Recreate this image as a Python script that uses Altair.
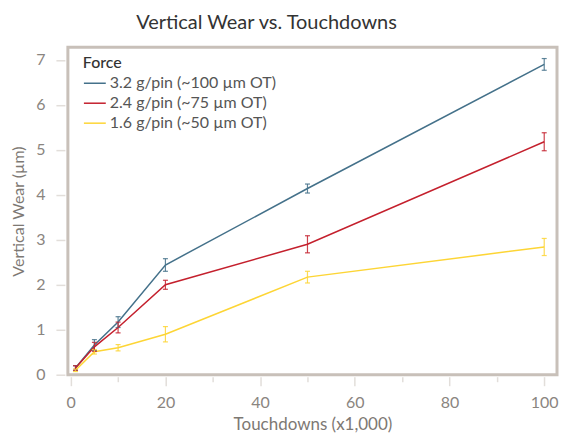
import altair as alt
import pandas as pd

touchdowns = [1, 5, 10, 20, 50, 100]
series_names = ["3.2 g/pin (~100 µm OT)", "2.4 g/pin (~75 µm OT)", "1.6 g/pin (~50 µm OT)"]
wear_32 = [0.15, 0.66, 1.17, 2.44, 4.14, 6.90]
err_32 = [0.05, 0.12, 0.12, 0.14, 0.10, 0.13]
wear_24 = [0.15, 0.62, 1.05, 2.00, 2.90, 5.18]
err_24 = [0.05, 0.10, 0.12, 0.10, 0.19, 0.20]
wear_16 = [0.10, 0.51, 0.60, 0.90, 2.17, 2.84]
err_16 = [0.03, 0.05, 0.07, 0.17, 0.13, 0.19]
colors = ["#44718a", "#c4202d", "#fdd535"]

rows = []
for name, vals, errs in zip(series_names, [wear_32, wear_24, wear_16], [err_32, err_24, err_16]):
    for t, v, e in zip(touchdowns, vals, errs):
        rows.append({"series": name, "t": t, "wear": v, "lo": v - e, "hi": v + e})
df = pd.DataFrame(rows)

FONT = "Lato"
xscale = alt.Scale(domain=[-0.6, 102.7], nice=False, zero=False)
yscale = alt.Scale(domain=[0, 7.28], nice=False)
cscale = alt.Scale(domain=series_names, range=colors)

xaxis = alt.Axis(
    values=list(range(0, 101, 10)),
    labelExpr="datum.value % 20 == 0 ? datum.label : ''",
    tickSize={"condition": {"test": "datum.value % 20 == 0", "value": 9}, "value": 5},
    domain=False, grid=False, offset=2, labelPadding=9, titlePadding=6,
    title="Touchdowns (x1,000)", titleFontSize=17,
)
yaxis = alt.Axis(
    values=[i * 0.5 for i in range(15)],
    labelExpr="datum.value % 1 == 0 ? datum.label : ''",
    tickSize={"condition": {"test": "datum.value % 1 == 0", "value": 9}, "value": 4},
    domain=False, grid=False, offset=3, labelPadding=11, titlePadding=9,
    title="Vertical Wear (µm)", titleFontSize=16,
)

base = alt.Chart(df)
lines = base.mark_line(strokeWidth=1.5).encode(
    x=alt.X("t:Q", scale=xscale, axis=xaxis),
    y=alt.Y("wear:Q", scale=yscale, axis=yaxis),
    color=alt.Color("series:N", scale=cscale, sort=series_names,
                    legend=alt.Legend(title="Force")),
)
bars = base.mark_errorbar(ticks={"size": 5, "thickness": 1.2}, thickness=1.2, opacity=0.85).encode(
    x=alt.X("t:Q", scale=xscale, title="Touchdowns (x1,000)"),
    y=alt.Y("lo:Q", scale=yscale, title="Vertical Wear (µm)"),
    y2="hi:Q",
    color=alt.Color("series:N", scale=cscale, legend=None),
)

chart = alt.layer(lines, bars).properties(
    width=490, height=328,
    padding={"left": 2, "top": 5, "right": 0, "bottom": 0},
    title=alt.TitleParams("Vertical Wear vs. Touchdowns", font=FONT, fontSize=20,
                          fontWeight="normal", color="#333333", anchor="middle",
                          frame="group", dx=-46, offset=14),
).configure_view(
    stroke="#c8c0b9", strokeWidth=3
).configure_axis(
    labelFont=FONT, titleFont=FONT, labelFontSize=16,
    labelColor="#8a8580", titleColor="#7d7873", titleFontWeight="normal",
    tickColor="#e2deda", tickWidth=1.5,
).configure_legend(
    orient="none", legendX=15, legendY=8,
    titleFont=FONT, labelFont=FONT, titleFontSize=16, labelFontSize=16,
    titleFontWeight=500, titleColor="#333333", labelColor="#555555",
    symbolType="stroke", symbolSize=480, symbolStrokeWidth=1.5,
    labelOffset=3, rowPadding=0, titlePadding=0, labelLimit=0,
)

chart.save("out.html", embed_options={"renderer": "svg", "actions": False})
